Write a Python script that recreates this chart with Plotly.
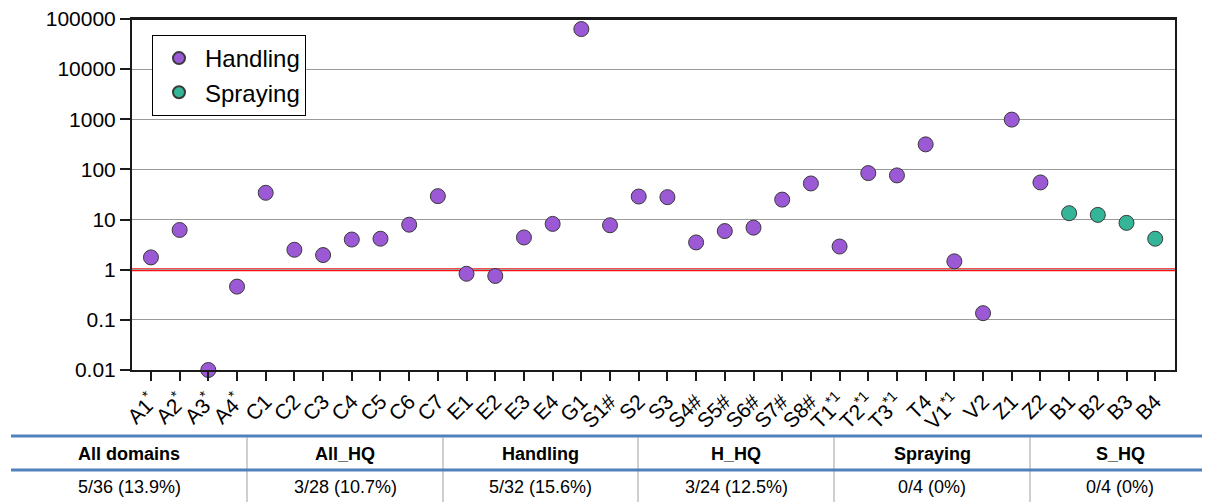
import plotly.graph_objects as go

# ---- data ----
categories = ["A1*", "A2*", "A3*", "A4*", "C1", "C2", "C3", "C4", "C5", "C6", "C7",
              "E1", "E2", "E3", "E4", "G1", "S1#", "S2", "S3", "S4#", "S5#", "S6#",
              "S7#", "S8#", "T1*1", "T2*1", "T3*1", "T4", "V1*1", "V2", "Z1", "Z2",
              "B1", "B2", "B3", "B4"]
tick_labels = ["A1<sup>*</sup>", "A2<sup>*</sup>", "A3<sup>*</sup>", "A4<sup>*</sup>",
               "C1", "C2", "C3", "C4", "C5", "C6", "C7", "E1", "E2", "E3", "E4", "G1",
               "S1#", "S2", "S3", "S4#", "S5#", "S6#", "S7#", "S8#",
               "T1<sup>*1</sup>", "T2<sup>*1</sup>", "T3<sup>*1</sup>", "T4",
               "V1<sup>*1</sup>", "V2", "Z1", "Z2", "B1", "B2", "B3", "B4"]

handling_cats = categories[:32]
handling_vals = [1.76, 6.2, 0.01, 0.46, 34.2, 2.5, 1.96, 4.0, 4.15, 7.9, 29.3,
                 0.83, 0.75, 4.4, 8.2, 63000, 7.7, 28.8, 28.0, 3.5, 5.9, 6.9,
                 25.0, 52.5, 2.9, 84.5, 76.0, 316.0, 1.47, 0.136, 985.0, 55.0]
spraying_cats = categories[32:]
spraying_vals = [13.4, 12.4, 8.6, 4.15]

y_tickvals = [0.01, 0.1, 1, 10, 100, 1000, 10000, 100000]
y_ticktext = ["0.01", "0.1", "1", "10", "100", "1000", "10000", "100000"]
threshold = 1

table_headers = ["All domains", "All_HQ", "Handling", "H_HQ", "Spraying", "S_HQ"]
table_values = ["5/36 (13.9%)", "3/28 (10.7%)", "5/32 (15.6%)", "3/24 (12.5%)",
                "0/4 (0%)", "0/4 (0%)"]

# ---- figure ----
FONT = "Arial, Liberation Sans, sans-serif"
fig = go.Figure()
fig.add_trace(go.Scatter(
    x=handling_cats, y=handling_vals, mode="markers", name="Handling",
    legendgroup="h",
    marker=dict(size=15, color="#9B59D6", line=dict(color="#3a3a3a", width=1)),
    cliponaxis=False))
fig.add_trace(go.Scatter(
    x=spraying_cats, y=spraying_vals, mode="markers", name="Spraying",
    legendgroup="s",
    marker=dict(size=15, color="#35B597", line=dict(color="#3a3a3a", width=1)),
    cliponaxis=False))

# threshold line (shape positions on a log axis are given in data values)
fig.add_shape(type="line", xref="paper", yref="y", x0=0, x1=1,
              y0=threshold, y1=threshold,
              line=dict(color="#FF1010", width=3), layer="between")
# top frame line
fig.add_shape(type="line", xref="paper", yref="paper", x0=0, x1=1, y0=1, y1=1,
              line=dict(color="#1a1a1a", width=2), layer="between")

# page body has an 8px margin, so the figure sits at (8, 8) on screen
OFF = 8
plot_left, plot_w = 132, 1043      # screen px
plot_bottom, plot_h = 370, 351     # screen px


def px_x(p):
    return (p - plot_left) / plot_w


def px_y(p):
    return (plot_bottom - p) / plot_h


col_edges = [11, 247, 443, 638, 834, 1030, 1210]
for yy in (436, 470):
    fig.add_shape(type="line", xref="paper", yref="paper",
                  x0=px_x(11), x1=px_x(1215), y0=px_y(yy), y1=px_y(yy),
                  line=dict(color="#4F81BD", width=3))
for e in col_edges[1:-1]:
    fig.add_shape(type="line", xref="paper", yref="paper",
                  x0=px_x(e), x1=px_x(e), y0=px_y(437.5), y1=px_y(505),
                  line=dict(color="#BFBFBF", width=1.5), layer="below")
for i, (h, v) in enumerate(zip(table_headers, table_values)):
    cx = px_x((col_edges[i] + col_edges[i + 1]) / 2)
    fig.add_annotation(x=cx, y=px_y(454), xref="paper", yref="paper",
                       text="<b>" + h + "</b>", showarrow=False,
                       font=dict(family=FONT, size=18, color="black"),
                       xanchor="center", yanchor="middle")
    fig.add_annotation(x=cx, y=px_y(487), xref="paper", yref="paper",
                       text=v, showarrow=False,
                       font=dict(family=FONT, size=18, color="black"),
                       xanchor="center", yanchor="middle")

fig.update_layout(
    width=1210 - OFF, height=502 - OFF,
    margin=dict(l=plot_left - OFF, r=1210 - (plot_left + plot_w),
                t=plot_bottom - plot_h - OFF, b=502 - plot_bottom),
    paper_bgcolor="white", plot_bgcolor="white",
    font=dict(family=FONT, color="black"),
    showlegend=True,
    legend=dict(x=px_x(152), y=px_y(35), xanchor="left", yanchor="top",
                bordercolor="black", borderwidth=1, bgcolor="white",
                font=dict(family=FONT, size=24, color="black"),
                tracegroupgap=0, itemsizing="constant", itemwidth=42),
    xaxis=dict(type="category", categoryorder="array", categoryarray=categories,
               tickvals=categories, ticktext=tick_labels, tickangle=-45,
               range=[-0.66, 35.69], showgrid=False, zeroline=False,
               showline=True, linecolor="#1a1a1a", linewidth=2, mirror=True,
               ticks="outside", ticklen=9, tickwidth=2, tickcolor="#1a1a1a",
               automargin=False,
               tickfont=dict(family=FONT, size=21, color="black")),
    yaxis=dict(type="log", range=[-2, 5], tickvals=y_tickvals, ticktext=y_ticktext,
               showgrid=True, gridcolor="#9a9a9a", gridwidth=1, zeroline=False,
               showline=True, linecolor="#1a1a1a", linewidth=2, mirror=True,
               ticks="outside", ticklen=10, tickwidth=2, tickcolor="#1a1a1a",
               automargin=False, ticklabeloverflow="allow",
               tickfont=dict(family=FONT, size=21, color="black")),
)

fig.write_html("out.html")
